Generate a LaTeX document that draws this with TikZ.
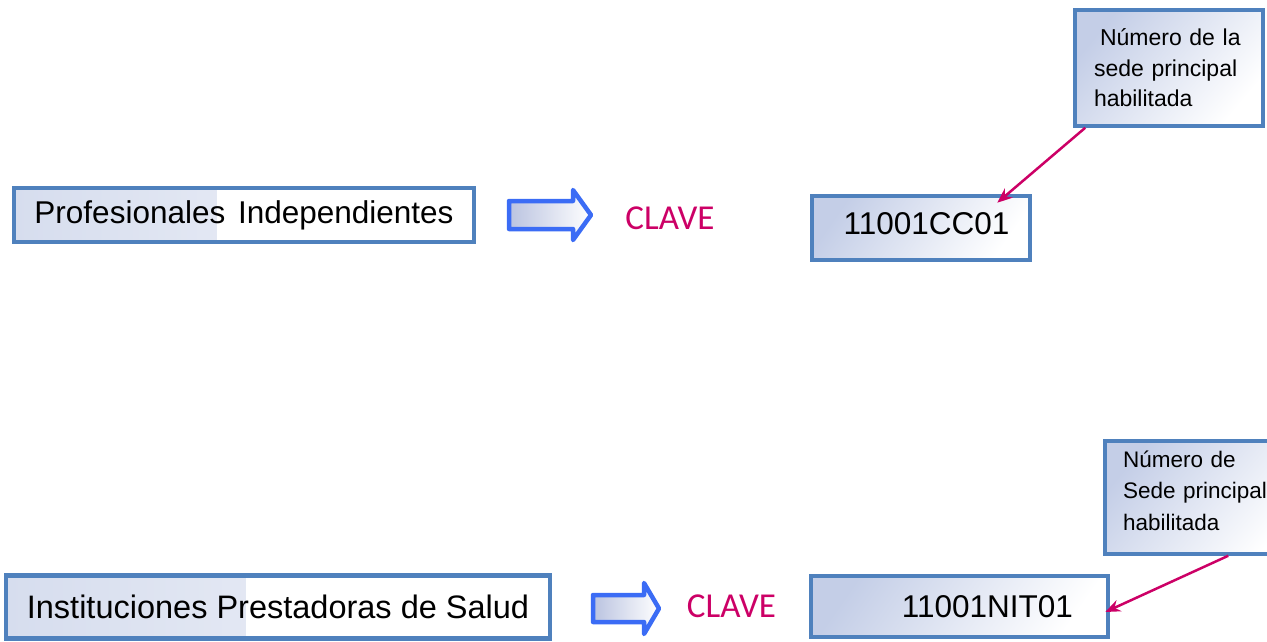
\documentclass[tikz,border=0pt]{standalone}
\usepackage{fontspec}
\setmainfont{Liberation Sans}
\newfontfamily\clavefont{Carlito}
\usetikzlibrary{arrows.meta,calc}
\definecolor{edgeblue}{RGB}{79,129,189}
\definecolor{arrowblue}{RGB}{59,108,245}
\definecolor{magentakey}{RGB}{204,0,102}
\definecolor{shadedark}{RGB}{196,206,231}
\definecolor{labelshade}{RGB}{214,221,238}
\definecolor{labelfade}{RGB}{243,245,250}
\definecolor{arrowshade}{RGB}{186,195,224}
\begin{document}
\begin{tikzpicture}[x=1pt,y=-1pt,
  labelbox/.style={draw=edgeblue, line width=4.5pt, fill=white, inner sep=0pt,
    path picture={\shade[left color=labelshade, right color=labelfade]
      (path picture bounding box.north west) rectangle
      ($(path picture bounding box.south west)!0.44!(path picture bounding box.south east)$);}},
  codebox/.style={draw=edgeblue, line width=4.5pt, top color=shadedark, bottom color=white,
    shading angle=55, inner sep=0pt, font=\fontsize{31.5}{36}\selectfont},
  calloutbox/.style={draw=edgeblue, line width=3.5pt, top color=shadedark, bottom color=white,
    shading angle=50, align=left, inner ysep=0pt},
  blockarrow/.style={draw=arrowblue, line width=4.5pt, line join=round,
    left color=arrowshade, right color=white},
  keytext/.style={text=magentakey, font=\clavefont\fontsize{35}{40}\selectfont, inner sep=0pt},
  pointer/.style={draw=magentakey, line width=2.5pt, -{Stealth[length=15pt,width=12pt]}}
]
\useasboundingbox (0,0) rectangle (1267,641);
\clip (0,0) rectangle (1267,641);

% top row
\node[labelbox, minimum width=460pt, minimum height=54pt, font=\fontsize{31.5}{36}\selectfont]
  (prof) at (244,215) {Profesionales\hspace{4pt} Independientes\rule[-4pt]{0pt}{4pt}};
\draw[blockarrow] (509,201) -- (573,201) -- (573,190) -- (591,215) -- (573,240) -- (573,229) -- (509,229) -- cycle;
\node[keytext] (clave1) at (670,218.3) {CLAVE};
\node[codebox, minimum width=218pt, minimum height=64pt] (code1) at (921,228)
  {\hspace*{11pt}11001CC01\rule[-10pt]{0pt}{10pt}};
\node[calloutbox, minimum width=188pt, minimum height=116pt, text width=150pt, inner xsep=19pt,
  font=\fontsize{23}{30.5}\selectfont] (note1) at (1169,68)
  {\hspace*{6pt}Número de la\\sede principal\\habilitada};

% bottom row
\node[labelbox, minimum width=544pt, minimum height=63pt, font=\fontsize{32.5}{38}\selectfont]
  (ips) at (278,607) {Instituciones Prestadoras de Salud};
\draw[blockarrow] (593,595) -- (644,595) -- (644,583) -- (659,608.5) -- (644,634) -- (644,622) -- (593,622) -- cycle;
\node[keytext] (clave2) at (731.5,606.5) {CLAVE};
\node[codebox, minimum width=297pt, minimum height=61pt] (code2) at (959.5,606.5)
  {\hspace*{56pt}11001NIT01};
\node[calloutbox, minimum width=196pt, minimum height=113pt, text width=160pt, inner xsep=18pt,
  font=\fontsize{22.5}{31.5}\selectfont] (note2) at (1203,497.5)
  {Número de\\Sede principal\\habilitada\rule[-14pt]{0pt}{14pt}};

% pointers
\draw[pointer] ([xshift=12pt]note1.south west) -- ([xshift=-35pt,yshift=-9pt]code1.north east);
\draw[pointer] ([xshift=125pt]note2.south west) -- ([xshift=-5pt,yshift=-5.5pt]code2.east);
\end{tikzpicture}
\end{document}
